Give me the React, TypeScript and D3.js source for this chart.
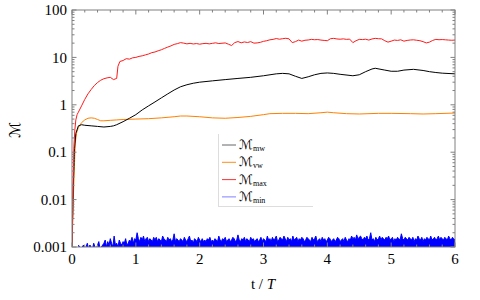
import React from 'react';
import * as d3 from 'd3';

const W = 480, H = 300;
const PL = 72, PR = 455, PT = 10, PB = 247;

const xTicks = [0, 1, 2, 3, 4, 5, 6];
const yTicks = [0.001, 0.01, 0.1, 1, 10, 100];
const yTickLabels = ['0.001', '0.01', '0.1', '1', '10', '100'];

// M_mw (black)
const mwT = [0, 0.02, 0.04, 0.06, 0.1, 0.15, 0.2, 0.3, 0.4, 0.5, 0.6, 0.65, 0.7, 0.8, 0.9, 1.0, 1.1, 1.2, 1.3, 1.4, 1.5, 1.6, 1.7, 1.8, 1.9, 2.0, 2.2, 2.4, 2.6, 2.8, 3.0, 3.2, 3.3, 3.4, 3.5, 3.6, 3.7, 3.8, 3.9, 4.0, 4.1, 4.2, 4.4, 4.5, 4.6, 4.7, 4.75, 4.9, 5.0, 5.1, 5.2, 5.35, 5.5, 5.6, 5.7, 5.8, 6.0];
const mwV = [0.0009, 0.02, 0.12, 0.25, 0.36, 0.38, 0.37, 0.36, 0.35, 0.34, 0.35, 0.36, 0.38, 0.44, 0.52, 0.62, 0.78, 0.95, 1.15, 1.4, 1.7, 2.05, 2.4, 2.65, 2.85, 3.0, 3.2, 3.4, 3.6, 3.8, 4.1, 4.5, 4.6, 4.5, 4.0, 3.6, 3.9, 4.3, 4.6, 4.7, 4.6, 4.4, 4.1, 4.3, 5.0, 5.7, 5.9, 5.4, 5.1, 5.1, 5.4, 5.6, 5.3, 5.0, 4.8, 4.65, 4.5];

// M_vw (orange)
const vwT = [0, 0.02, 0.04, 0.05, 0.07, 0.1, 0.15, 0.2, 0.25, 0.3, 0.35, 0.4, 0.45, 0.5, 0.6, 0.7, 0.8, 1.0, 1.2, 1.4, 1.6, 1.7, 1.8, 2.0, 2.2, 2.4, 2.6, 2.8, 3.0, 3.1, 3.3, 3.5, 3.7, 3.9, 4.0, 4.1, 4.3, 4.5, 4.8, 5.0, 5.3, 5.5, 5.7, 6.0];
const vwV = [0.0009, 0.01, 0.06, 0.15, 0.25, 0.33, 0.42, 0.48, 0.52, 0.53, 0.52, 0.49, 0.46, 0.46, 0.47, 0.48, 0.49, 0.5, 0.51, 0.53, 0.56, 0.58, 0.58, 0.56, 0.53, 0.52, 0.54, 0.57, 0.62, 0.65, 0.66, 0.66, 0.65, 0.68, 0.7, 0.68, 0.65, 0.64, 0.66, 0.66, 0.65, 0.64, 0.65, 0.67];

// M_max (red)
const maxT = [0, 0.01, 0.02, 0.03, 0.045, 0.06, 0.08, 0.1, 0.15, 0.2, 0.25, 0.3, 0.35, 0.4, 0.45, 0.5, 0.55, 0.6, 0.65, 0.7, 0.72, 0.75, 0.8, 0.85, 0.9, 0.95, 1.0, 1.05, 1.1, 1.15, 1.2, 1.25, 1.3, 1.35, 1.4, 1.45, 1.5, 1.55, 1.6, 1.65, 1.7, 1.75, 1.8, 1.85, 1.9, 1.95, 2.0, 2.05, 2.1, 2.15, 2.2, 2.25, 2.3, 2.35, 2.4, 2.45, 2.5, 2.55, 2.6, 2.65, 2.7, 2.75, 2.8, 2.85, 2.9, 2.95, 3.0, 3.05, 3.1, 3.15, 3.2, 3.25, 3.3, 3.35, 3.4, 3.45, 3.5, 3.55, 3.6, 3.65, 3.7, 3.75, 3.8, 3.85, 3.9, 3.95, 4.0, 4.05, 4.1, 4.15, 4.2, 4.25, 4.3, 4.35, 4.4, 4.45, 4.5, 4.55, 4.6, 4.65, 4.7, 4.75, 4.8, 4.85, 4.9, 4.95, 5.0, 5.05, 5.1, 5.15, 5.2, 5.25, 5.3, 5.35, 5.4, 5.45, 5.5, 5.55, 5.6, 5.65, 5.7, 5.75, 5.8, 5.85, 5.9, 5.95, 6.0];
const maxV = [0.0009, 0.005, 0.03, 0.13, 0.3, 0.48, 0.62, 0.7, 0.95, 1.3, 1.7, 2.1, 2.55, 2.95, 3.3, 3.55, 3.7, 3.8, 3.4, 3.6, 6.5, 8.2, 8.6, 9.4, 9.2, 9.8, 10.0, 10.5, 10.8, 11.3, 11.8, 12.6, 13.0, 13.8, 14.5, 15.5, 16.5, 17.5, 18.8, 19.5, 20.5, 20.0, 19.3, 19.8, 19.2, 19.6, 19.0, 19.5, 19.8, 19.3, 19.8, 20.3, 19.6, 19.9, 20.2, 19.0, 17.8, 20.5, 21.6, 20.3, 21.2, 20.6, 21.5, 20.0, 20.2, 20.8, 21.8, 22.5, 23.5, 24.0, 25.0, 24.2, 24.8, 25.3, 24.6, 20.5, 21.5, 23.2, 22.0, 23.0, 23.3, 24.0, 23.6, 23.8, 23.2, 22.8, 22.5, 24.8, 25.2, 24.5, 24.2, 24.6, 24.0, 24.3, 20.5, 22.5, 24.0, 23.8, 24.2, 23.2, 24.5, 25.2, 24.8, 24.6, 22.5, 21.0, 22.0, 23.2, 22.8, 23.5, 22.0, 22.8, 23.3, 23.5, 23.0, 22.5, 21.5, 20.2, 21.0, 22.8, 24.0, 23.6, 23.8, 23.5, 23.2, 23.0, 23.2];

// M_min (blue), in units of 1e-4, sampled every 0.02 from t = 0.1
const minStart = 0.1, minStep = 0.02;
const minV = [
  11, 10, 9, 10, 11, 9, 10, 12, 9, 11, 10, 9, 12, 10, 9, 11, 13, 9, 10, 11,
  12, 14, 10, 13, 11, 15, 12, 10, 17, 11, 12, 10, 14, 12, 11, 13, 12, 15, 11, 12,
  14, 13, 16, 12, 15, 14, 20, 15, 13, 16, 14, 17, 13, 15, 16, 13, 15, 14, 13, 16,
  14, 16, 13, 15, 14, 13, 17, 15, 14, 13, 16, 14, 15, 13, 14, 19, 13, 15, 14, 13,
  15, 14, 13, 16, 14, 13, 15, 17, 13, 14, 12, 15, 14, 13, 16, 14, 13, 15, 13, 14,
  13, 15, 14, 16, 13, 14, 13, 15, 14, 13, 17, 14, 13, 15, 14, 16, 13, 14, 15, 13,
  14, 16, 15, 13, 14, 18, 14, 13, 15, 14, 16, 13, 15, 14, 13, 16, 14, 15, 13, 14,
  15, 13, 14, 16, 13, 15, 14, 13, 17, 14, 15, 13, 16, 14, 15, 17, 13, 14, 16, 15,
  14, 17, 15, 13, 16, 14, 15, 13, 17, 14, 15, 16, 13, 15, 14, 16, 15, 13, 14, 16,
  15, 14, 13, 16, 14, 15, 17, 13, 14, 15, 13, 16, 14, 15, 13, 14, 16, 15, 13, 14,
  15, 13, 14, 16, 15, 13, 14, 15, 13, 16, 14, 13, 15, 14, 17, 15, 16, 14, 18, 15,
  16, 17, 15, 14, 16, 15, 17, 14, 15, 20, 14, 15, 13, 16, 14, 15, 17, 14, 16, 15,
  14, 16, 15, 17, 14, 15, 16, 13, 15, 14, 16, 15, 14, 19, 15, 14, 16, 15, 14, 16,
  15, 14, 16, 13, 15, 14, 17, 15, 14, 16, 13, 15, 14, 16, 15, 14, 17, 14, 15, 16,
  14, 15, 17, 14, 16, 15, 14, 16, 15, 14, 17, 15, 14, 16, 15, 14
];

const seriesNames = ['mw', 'vw', 'max', 'min'];
const seriesColors = ['#000000', '#ff8000', '#ff1a1a', '#0000ff'];
const legendColors = ['#666666', '#ff8c1a', '#ff3333', '#8080ff'];

const FONT = '"Liberation Serif", "DejaVu Serif", serif';
const SCRIPT_FONT = '"DejaVu Sans", "Liberation Serif", serif';

export default function App() {
  const x = d3.scaleLinear().domain([0, 6]).range([PL, PR]);
  const y = d3.scaleLog().domain([0.001, 100]).range([PB, PT]);

  const line = d3.line<[number, number]>()
    .x(d => x(d[0]))
    .y(d => y(d[1]));

  const mw = mwT.map((t, i) => [t, mwV[i]] as [number, number]);
  const vw = vwT.map((t, i) => [t, vwV[i]] as [number, number]);
  const mx = maxT.map((t, i) => [t, maxV[i]] as [number, number]);
  const mn = minV.map((v, i) => [minStart + i * minStep, v * 1e-4] as [number, number]);

  const area = d3.area<[number, number]>()
    .x(d => x(d[0]))
    .y0(PB + 2)
    .y1(d => y(d[1]));

  const xMinor = d3.range(0, 6.0001, 0.2).filter(v => Math.abs(v - Math.round(v)) > 1e-6);
  const yMinor: number[] = [];
  [0.001, 0.01, 0.1, 1, 10].forEach(d => { for (let k = 2; k <= 9; k++) yMinor.push(d * k); });

  const gray = '#808080';
  const legX = 218, legY0 = 145, legDy = 17.3;

  return (
    <svg width={W} height={H} style={{ position: 'absolute', left: 0, top: 0, background: '#fff' }}>
      <defs>
        <clipPath id="plot">
          <rect x={PL} y={PT} width={PR - PL} height={PB - PT} />
        </clipPath>
      </defs>
      <rect x={0} y={0} width={W} height={H} fill="#fff" />

      <g clipPath="url(#plot)">
        <path d={area(mn) || ''} fill={seriesColors[3]} stroke="none" />
        <path d={line(mn) || ''} fill="none" stroke={seriesColors[3]} strokeWidth={1} />
        <path d={line(vw) || ''} fill="none" stroke={seriesColors[1]} strokeWidth={1} />
        <path d={line(mw) || ''} fill="none" stroke={seriesColors[0]} strokeWidth={1} />
        <path d={line(mx) || ''} fill="none" stroke={seriesColors[2]} strokeWidth={1} />
      </g>

      {/* frame */}
      <rect x={PL} y={PT} width={PR - PL} height={PB - PT} fill="none" stroke={gray} strokeWidth={1} />

      {/* x ticks */}
      {xTicks.map(t => (
        <g key={'xt' + t}>
          <line x1={x(t)} x2={x(t)} y1={PB} y2={PB - 4.5} stroke={gray} />
          <line x1={x(t)} x2={x(t)} y1={PT} y2={PT + 4.5} stroke={gray} />
          <text x={x(t)} y={264} textAnchor="middle" fontFamily={FONT} fontSize={15} fill="#000">{t}</text>
        </g>
      ))}
      {xMinor.map((t, i) => (
        <g key={'xm' + i}>
          <line x1={x(t)} x2={x(t)} y1={PB} y2={PB - 2.5} stroke={gray} />
          <line x1={x(t)} x2={x(t)} y1={PT} y2={PT + 2.5} stroke={gray} />
        </g>
      ))}

      {/* y ticks */}
      {yTicks.map((t, i) => (
        <g key={'yt' + t}>
          <line x1={PL} x2={PL + 4.5} y1={y(t)} y2={y(t)} stroke={gray} />
          <line x1={PR} x2={PR - 4.5} y1={y(t)} y2={y(t)} stroke={gray} />
          <text x={67} y={y(t)} dy="0.35em" textAnchor="end" fontFamily={FONT} fontSize={15} fill="#000">{yTickLabels[i]}</text>
        </g>
      ))}
      {yMinor.map((t, i) => (
        <g key={'ym' + i}>
          <line x1={PL} x2={PL + 2.5} y1={y(t)} y2={y(t)} stroke={gray} />
          <line x1={PR} x2={PR - 2.5} y1={y(t)} y2={y(t)} stroke={gray} />
        </g>
      ))}

      {/* axis labels */}
      <text x={263} y={289} textAnchor="middle" fontFamily={FONT} fontSize={15} fill="#000">
        t / <tspan fontStyle="italic">T</tspan>
      </text>
      <text transform="translate(20,130) rotate(-90)" textAnchor="middle" fontFamily={SCRIPT_FONT} fontSize={15} fill="#000">ℳ</text>

      {/* legend */}
      <line x1={legX + 0.5} x2={legX + 0.5} y1={134} y2={206} stroke="#dddddd" />
      <line x1={legX} x2={313} y1={206.5} y2={206.5} stroke="#dddddd" />
      {seriesNames.map((n, i) => (
        <g key={'lg' + n}>
          <line x1={222} x2={236} y1={legY0 + i * legDy} y2={legY0 + i * legDy} stroke={legendColors[i]} strokeWidth={1} />
          <text x={239} y={legY0 + i * legDy + 4} fontFamily={SCRIPT_FONT} fontSize={13} fill="#000">
            ℳ<tspan fontFamily={FONT} fontSize={8} dy={2}>{n}</tspan>
          </text>
        </g>
      ))}
    </svg>
  );
}
